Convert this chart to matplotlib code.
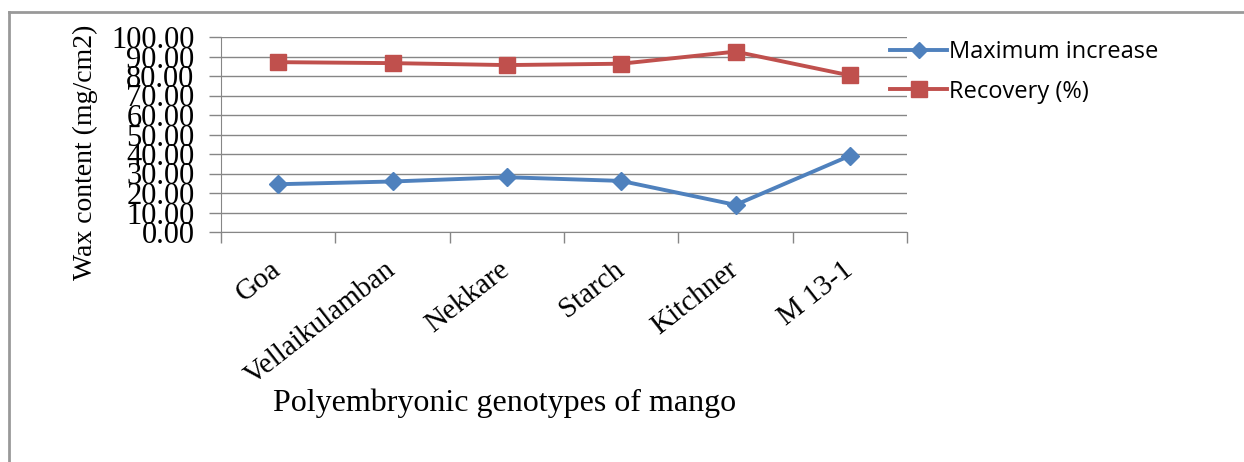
import matplotlib.pyplot as plt
from matplotlib.lines import Line2D

# --- data ---
genotypes = ["Goa", "Vellaikulamban", "Nekkare", "Starch", "Kitchner", "M 13-1"]
max_increase = [24.5, 25.9, 28.1, 26.2, 13.9, 39.1]
recovery = [87.1, 86.6, 85.6, 86.3, 92.5, 80.3]
y_ticks = [0, 10, 20, 30, 40, 50, 60, 70, 80, 90, 100]

blue = "#4F81BD"
red = "#C0504D"
grid_col = "#868686"

fig = plt.figure(figsize=(12.44, 4.62), dpi=100)
ax = fig.add_axes([221 / 1244, 1 - 232 / 462, (907 - 221) / 1244, (232 - 37) / 462])

x = list(range(1, len(genotypes) + 1))
ax.plot(x, max_increase, color=blue, lw=2.8, marker="D", markersize=9,
        label="Maximum increase")
ax.plot(x, recovery, color=red, lw=2.8, marker="s", markersize=12,
        label="Recovery (%)")

ax.set_xlim(0.5, len(genotypes) + 0.5)
ax.set_ylim(0, 100)
ax.set_yticks(y_ticks)
ax.set_yticklabels([f"{v:.2f}" for v in y_ticks], family="Liberation Serif",
                   fontsize=22)
ax.yaxis.grid(True, color=grid_col, lw=1)
ax.set_axisbelow(True)

# category labels at centres, tick marks at boundaries
ax.set_xticks(x)
ax.set_xticklabels(genotypes, rotation=38, ha="right", va="center",
                   rotation_mode="anchor", family="Liberation Serif", fontsize=21)
ax.set_xticks([i + 0.5 for i in range(len(genotypes) + 1)], minor=True)
ax.tick_params(axis="x", which="major", length=0, pad=25)
ax.tick_params(axis="x", which="minor", length=8, color=grid_col, width=1)
ax.tick_params(axis="y", length=9, color=grid_col, width=1, pad=10)

for side in ["top", "right"]:
    ax.spines[side].set_visible(False)
for side in ["left", "bottom"]:
    ax.spines[side].set_color(grid_col)

ax.set_ylabel("Wax content (mg/cm2)", family="Liberation Serif", fontsize=20)
ax.yaxis.set_label_coords((98 - 221) / 686, 0.41)
ax.set_xlabel("Polyembryonic genotypes of mango", family="Liberation Serif",
              fontsize=23)
ax.xaxis.set_label_coords((505 - 221) / 686, (232 - 388) / 195)

handles = [
    Line2D([], [], color=blue, lw=2.8, marker="D", markersize=8),
    Line2D([], [], color=red, lw=2.8, marker="s", markersize=11),
]
fig.legend(handles, ["Maximum increase", "Recovery (%)"], loc="upper left",
           bbox_to_anchor=(869 / 1244, 1 - 19 / 462), frameon=False,
           prop={"family": "Open Sans", "size": 17}, handlelength=2.4,
           handletextpad=0.1, labelspacing=0.65)

# page frame lines (top and left)
fig.add_artist(Line2D([9 / 1244, 1], [1 - 12 / 462, 1 - 12 / 462],
                      transform=fig.transFigure, color="#999999", lw=2))
fig.add_artist(Line2D([9 / 1244, 9 / 1244], [0, 1 - 12 / 462],
                      transform=fig.transFigure, color="#999999", lw=2))

fig.savefig("out.png", dpi=100)
